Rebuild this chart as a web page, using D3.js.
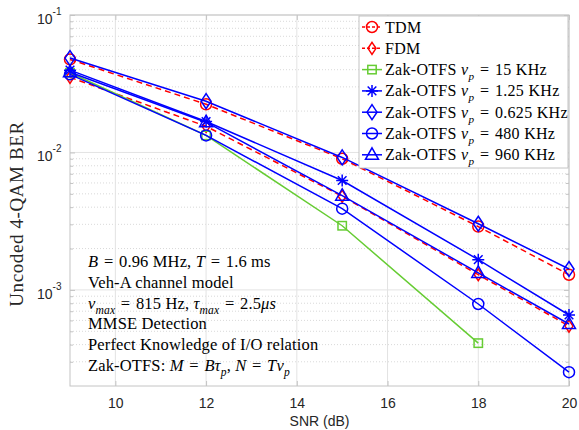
<!DOCTYPE html>
<html>
<head>
<meta charset="utf-8">
<script src="https://cdn.jsdelivr.net/npm/d3@7"></script>
<style>
  html, body { margin: 0; padding: 0; background: #fff; }
  svg text { white-space: pre; }
</style>
</head>
<body>
<svg id="chart" width="579" height="430"></svg>
<script>
// SNR grid (dB) and BER per scheme
const snr = [9, 12, 15, 18, 20];
const snrShort = [9, 12, 15, 18];
const berTDM   = [0.0475, 0.0224, 0.0090, 0.00289, 0.00129];
const berFDM   = [0.0352, 0.0155, 0.0048, 0.00129, 0.000546];
const berZ15k  = [0.0380, 0.0133, 0.00293, 0.00041];
const berZ1250 = [0.0397, 0.0168, 0.00625, 0.00166, 0.000657];
const berZ625  = [0.0486, 0.0236, 0.0092, 0.00303, 0.00142];
const berZ480k = [0.0370, 0.0133, 0.0039, 0.00079, 0.000252];
const berZ960k = [0.0383, 0.0166, 0.00485, 0.00133, 0.000565];

const seriesNames = [
  "TDM",
  "FDM",
  "Zak-OTFS $ν_{p}$ = 15 KHz",
  "Zak-OTFS $ν_{p}$ = 1.25 KHz",
  "Zak-OTFS $ν_{p}$ = 0.625 KHz",
  "Zak-OTFS $ν_{p}$ = 480 KHz",
  "Zak-OTFS $ν_{p}$ = 960 KHz"
];

const xTicks = [10, 12, 14, 16, 18, 20];
const yDecades = [-3, -2, -1];

const noteLines = [
  "$B$ = 0.96 MHz, $T$ = 1.6 ms",
  "Veh-A channel model",
  "$ν_{max}$ = 815 Hz, $τ_{max}$ = 2.5$μs$",
  "MMSE Detection",
  "Perfect Knowledge of I/O relation",
  "Zak-OTFS: $M$ = $Bτ_{p}$, $N$ = $Tν_{p}$"
];

const RED = "#ff0000", BLUE = "#0000ff", GREEN = "#66cc33";

const series = [
  { name: seriesNames[0], x: snr,      y: berTDM,   color: RED,   marker: "circle",   dash: "6,4" },
  { name: seriesNames[1], x: snr,      y: berFDM,   color: RED,   marker: "diamond",  dash: "6,4", small: true },
  { name: seriesNames[2], x: snrShort, y: berZ15k,  color: GREEN, marker: "square",   dash: null },
  { name: seriesNames[3], x: snr,      y: berZ1250, color: BLUE,  marker: "star",     dash: null },
  { name: seriesNames[4], x: snr,      y: berZ625,  color: BLUE,  marker: "diamond",  dash: null },
  { name: seriesNames[5], x: snr,      y: berZ480k, color: BLUE,  marker: "circle",   dash: null },
  { name: seriesNames[6], x: snr,      y: berZ960k, color: BLUE,  marker: "triangle", dash: null }
];

const svg = d3.select("#chart");
const L = 70, R = 569, T = 15, B = 386;

const x = d3.scaleLinear().domain([9, 20]).range([L, R]);
const y = d3.scaleLog().domain([2e-4, 1e-1]).range([B, T]);

const SERIF = "'Liberation Serif', 'Times New Roman', serif";
const SANS = "'Liberation Sans', Arial, sans-serif";

// rich text: $...$ is italic math, _{...} is a subscript; '=' gets math spacing
function rich(textSel, markup, size) {
  let shift = 0;
  markup.split("$").forEach((part, i) => {
    const math = i % 2 === 1;
    const chunks = [];
    if (math) {
      const re = /_\{([^}]*)\}/g;
      let last = 0, m;
      while ((m = re.exec(part))) {
        if (m.index > last) chunks.push({ t: part.slice(last, m.index), sub: false });
        chunks.push({ t: m[1], sub: true });
        last = re.lastIndex;
      }
      if (last < part.length) chunks.push({ t: part.slice(last), sub: false });
    } else if (part.length) {
      chunks.push({ t: part.replace(/ = /g, "\u2004=\u2004"), sub: false });
    }
    chunks.forEach(c => {
      const ts = textSel.append("tspan").text(c.t)
        .attr("font-style", math ? "italic" : "normal");
      const target = c.sub ? size * 0.3 : 0;
      if (target !== shift) { ts.attr("dy", target - shift); shift = target; }
      if (c.sub) ts.attr("font-size", size * 0.7);
    });
  });
}

// grid
const grid = svg.append("g");
const minorVals = [];
yDecades.concat([-4]).forEach(d => {
  for (let k = 2; k <= 9; k++) {
    const v = k * Math.pow(10, d);
    if (v > 2e-4 && v < 1e-1) minorVals.push(v);
  }
});
grid.selectAll("line.minor").data(minorVals).join("line")
  .attr("x1", L).attr("x2", R)
  .attr("y1", d => y(d)).attr("y2", d => y(d))
  .attr("stroke", "#cfcfcf").attr("stroke-width", 0.8)
  .attr("stroke-dasharray", "1,2");
grid.selectAll("line.ymaj").data(yDecades.map(d => Math.pow(10, d))).join("line")
  .attr("x1", L).attr("x2", R)
  .attr("y1", d => y(d)).attr("y2", d => y(d))
  .attr("stroke", "#e3e3e3").attr("stroke-width", 1);
grid.selectAll("line.xmaj").data(xTicks).join("line")
  .attr("x1", d => x(d)).attr("x2", d => x(d))
  .attr("y1", T).attr("y2", B)
  .attr("stroke", "#e3e3e3").attr("stroke-width", 1);

// axes box with inward ticks
const AX = "#c4c4c4";
svg.append("rect").attr("x", L).attr("y", T).attr("width", R - L).attr("height", B - T)
  .attr("fill", "none").attr("stroke", AX).attr("stroke-width", 1);

const xAxis = d3.axisBottom(x).tickValues(xTicks).tickSize(-5).tickFormat(d3.format("d"));
const gx = svg.append("g").attr("transform", `translate(0,${B})`).call(xAxis);
gx.select(".domain").remove();
gx.selectAll(".tick line").attr("stroke", AX);
gx.selectAll(".tick text").attr("font-family", SANS).attr("font-size", 14)
  .attr("fill", "#262626").attr("dy", null).attr("y", 22);

svg.append("g").attr("transform", `translate(0,${T})`).call(
  d3.axisTop(x).tickValues(xTicks).tickSize(-5).tickFormat(""))
  .call(g => { g.select(".domain").remove(); g.selectAll(".tick line").attr("stroke", AX); });

const gy = svg.append("g").attr("transform", `translate(${L},0)`)
  .call(d3.axisLeft(y).tickValues(yDecades.map(d => Math.pow(10, d))).tickSize(-5).tickFormat(""));
gy.select(".domain").remove();
gy.selectAll(".tick line").attr("stroke", AX);
svg.append("g").attr("transform", `translate(${L},0)`)
  .call(d3.axisLeft(y).tickValues(minorVals).tickSize(-3).tickFormat(""))
  .call(g => { g.select(".domain").remove(); g.selectAll(".tick line").attr("stroke", AX); });
svg.append("g").attr("transform", `translate(${R},0)`)
  .call(d3.axisRight(y).tickValues(yDecades.map(d => Math.pow(10, d))).tickSize(-5).tickFormat(""))
  .call(g => { g.select(".domain").remove(); g.selectAll(".tick line").attr("stroke", AX); });
svg.append("g").attr("transform", `translate(${R},0)`)
  .call(d3.axisRight(y).tickValues(minorVals).tickSize(-3).tickFormat(""))
  .call(g => { g.select(".domain").remove(); g.selectAll(".tick line").attr("stroke", AX); });

// y tick labels as powers of ten
yDecades.forEach(d => {
  const yy = y(Math.pow(10, d));
  const t = svg.append("text").attr("x", 37).attr("y", yy + 9)
    .attr("font-family", SANS).attr("font-size", 14).attr("fill", "#262626");
  t.append("tspan").text("10");
  t.append("tspan").text(String(d)).attr("font-size", 10).attr("dy", -9);
});

// axis titles
svg.append("text").attr("x", (L + R) / 2).attr("y", 426)
  .attr("text-anchor", "middle").attr("font-family", SANS).attr("font-size", 14)
  .attr("fill", "#262626").text("SNR (dB)");
svg.append("text").attr("transform", "translate(23,214) rotate(-90)")
  .attr("text-anchor", "middle").attr("font-family", SERIF).attr("font-size", 19)
  .attr("letter-spacing", 0.6)
  .attr("fill", "#262626").text("Uncoded 4-QAM BER");

// markers
function drawMarker(g, kind, cx, cy, color, small) {
  const sw = 1.5;
  if (kind === "circle") {
    g.append("circle").attr("cx", cx).attr("cy", cy).attr("r", 5.5)
      .attr("fill", "none").attr("stroke", color).attr("stroke-width", sw);
  } else if (kind === "diamond") {
    const w = small ? 4 : 5, h = small ? 6 : 7.5;
    g.append("path").attr("d", `M${cx},${cy - h}L${cx + w},${cy}L${cx},${cy + h}L${cx - w},${cy}Z`)
      .attr("fill", "none").attr("stroke", color).attr("stroke-width", sw);
  } else if (kind === "square") {
    g.append("rect").attr("x", cx - 4.2).attr("y", cy - 4.2).attr("width", 8.4).attr("height", 8.4)
      .attr("fill", "none").attr("stroke", color).attr("stroke-width", sw);
  } else if (kind === "triangle") {
    g.append("path").attr("d", `M${cx},${cy - 7}L${cx + 6.5},${cy + 4.5}L${cx - 6.5},${cy + 4.5}Z`)
      .attr("fill", "none").attr("stroke", color).attr("stroke-width", sw);
  } else if (kind === "star") {
    const r = 6, q = r * 0.72;
    g.append("path")
      .attr("d", `M${cx - r},${cy}L${cx + r},${cy}M${cx},${cy - r}L${cx},${cy + r}` +
                 `M${cx - q},${cy - q}L${cx + q},${cy + q}M${cx - q},${cy + q}L${cx + q},${cy - q}`)
      .attr("fill", "none").attr("stroke", color).attr("stroke-width", sw);
  }
}

const line = d3.line().x(d => x(d[0])).y(d => y(d[1]));
const plot = svg.append("g");
series.forEach(s => {
  const pts = s.x.map((v, i) => [v, s.y[i]]);
  const g = plot.append("g");
  g.append("path").attr("d", line(pts)).attr("fill", "none")
    .attr("stroke", s.color).attr("stroke-width", 1.5)
    .attr("stroke-dasharray", s.dash);
  pts.forEach(p => drawMarker(g, s.marker, x(p[0]), y(p[1]), s.color, s.small));
});

// legend
const lg = svg.append("g");
const lgX = 359, lgY = 16, lgW = 209, lgH = 152, rowH = 21.3;
lg.append("rect").attr("x", lgX).attr("y", lgY).attr("width", lgW).attr("height", lgH)
  .attr("fill", "#fff").attr("stroke", "#c4c4c4").attr("stroke-width", 1);
series.forEach((s, i) => {
  const cy = 27 + i * rowH;
  lg.append("line").attr("x1", 362).attr("x2", 382).attr("y1", cy).attr("y2", cy)
    .attr("stroke", s.color).attr("stroke-width", 1.5).attr("stroke-dasharray", s.dash ? "3,2" : null);
  drawMarker(lg, s.marker, 372, cy, s.color, s.small);
  const t = lg.append("text").attr("x", 385).attr("y", cy + 5.5)
    .attr("font-family", SERIF).attr("font-size", 16).attr("letter-spacing", 0.3).attr("fill", "#000");
  rich(t, s.name, 16);
});

// simulation settings note
noteLines.forEach((txt, i) => {
  const t = svg.append("text").attr("x", 88).attr("y", 267 + i * 20.8)
    .attr("font-family", SERIF).attr("font-size", 16.5).attr("letter-spacing", 0.15).attr("fill", "#000");
  rich(t, txt, 16.5);
});
</script>
</body>
</html>
